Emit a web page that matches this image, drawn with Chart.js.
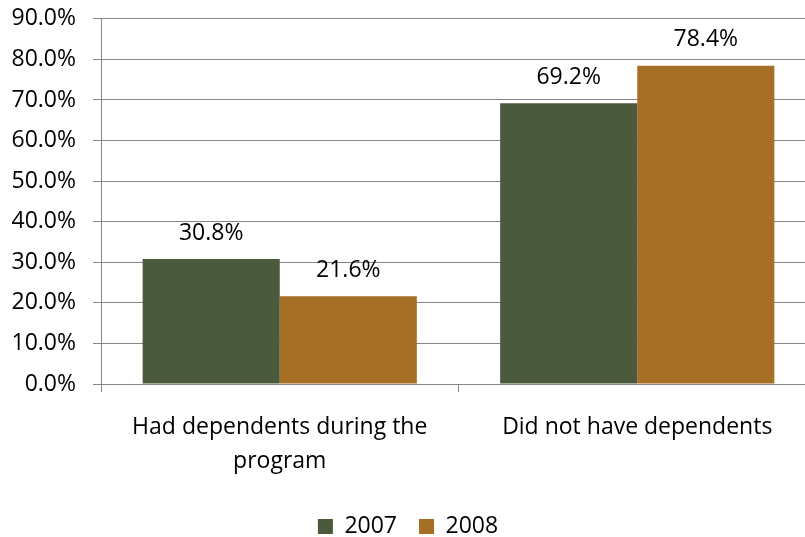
<!DOCTYPE html>
<html>
<head>
<meta charset="utf-8">
<script src="https://cdn.jsdelivr.net/npm/chart.js@4"></script>
<style>
  html, body { margin: 0; padding: 0; background: #fff; overflow: hidden; }
  #wrap { width: 805px; height: 537px; overflow: hidden; position: relative; }
  #c { position: absolute; left: 0; top: -12px; }
</style>
</head>
<body>
<div id="wrap"><canvas id="c" width="822" height="560"></canvas></div>
<script>
const categories = [["Had dependents during the", "program"], "Did not have dependents"];
const seriesNames = ["2007", "2008"];
const values2007 = [30.8, 69.2];
const values2008 = [21.6, 78.4];
const yTicks = [0, 10, 20, 30, 40, 50, 60, 70, 80, 90];

const FONT = "Open Sans";
const FS = 23;
const GRID = "#868686";

const valueLabels = {
  id: "valueLabels",
  afterDatasetsDraw(chart) {
    const ctx = chart.ctx;
    ctx.save();
    ctx.font = FS + "px '" + FONT + "'";
    ctx.fillStyle = "#000";
    ctx.textAlign = "center";
    ctx.textBaseline = "middle";
    chart.data.datasets.forEach((ds, i) => {
      chart.getDatasetMeta(i).data.forEach((bar, j) => {
        ctx.fillText(ds.data[j].toFixed(1) + "%", bar.x, bar.y - 26);
      });
    });
    ctx.restore();
  }
};

new Chart(document.getElementById("c"), {
  type: "bar",
  data: {
    labels: categories,
    datasets: [
      { label: seriesNames[0], data: values2007, backgroundColor: "#4B5A3C" },
      { label: seriesNames[1], data: values2008, backgroundColor: "#A66F26" }
    ]
  },
  options: {
    responsive: false,
    animation: false,
    layout: { padding: { top: 0, right: 6, bottom: 0, left: 0 } },
    datasets: { bar: { barPercentage: 1.0, categoryPercentage: 0.767 } },
    plugins: {
      legend: {
        position: "bottom",
        labels: { font: { family: FONT, size: FS }, color: "#000", boxWidth: 15, boxHeight: 15, padding: 22 }
      },
      tooltip: { enabled: false }
    },
    scales: {
      y: {
        min: 0, max: 90,
        afterBuildTicks(scale) { scale.ticks = yTicks.map(v => ({ value: v })); },
        afterFit(scale) { scale.width = 101; },
        ticks: {
          font: { family: FONT, size: FS }, color: "#000", padding: 17,
          callback: v => v.toFixed(1) + "%"
        },
        grid: { color: GRID, lineWidth: 1, tickLength: 8 },
        border: { color: GRID, width: 1 }
      },
      x: {
        afterFit(scale) { scale.height = 109; },
        ticks: { font: { family: FONT, size: FS, lineHeight: 1.45 }, color: "#000", padding: 19, maxRotation: 0 },
        grid: { offset: true, drawOnChartArea: false, color: GRID, tickLength: 8 },
        border: { color: GRID, width: 1 }
      }
    }
  },
  plugins: [valueLabels]
});
</script>
</body>
</html>
